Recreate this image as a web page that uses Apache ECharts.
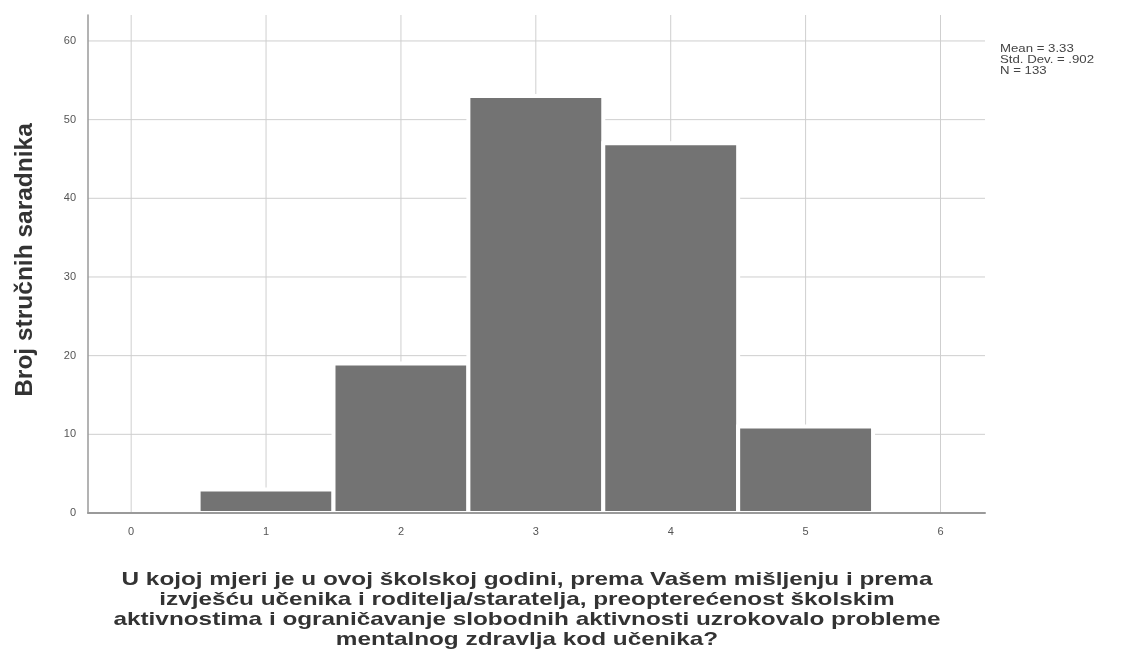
<!DOCTYPE html>
<html><head><meta charset="utf-8">
<script src="https://cdn.jsdelivr.net/npm/echarts@6/dist/echarts.min.js"></script>
<style>html,body{margin:0;padding:0;background:#fff}#c{width:1122px;height:665px}</style>
</head><body><div id="c"></div>
<script>
const binCenters = [1, 2, 3, 4, 5];
const counts = [3, 19, 53, 47, 11];
const yTicks = [0, 10, 20, 30, 40, 50, 60];
const xTicks = [0, 1, 2, 3, 4, 5, 6];
const statsText = ['Mean = 3.33', 'Std. Dev. = .902', 'N = 133'];
const yTitle = 'Broj stručnih saradnika';
const xTitleLines = [
  'U kojoj mjeri je u ovoj školskoj godini, prema Vašem mišljenju i prema',
  'izvješću učenika i roditelja/staratelja, preopterećenost školskim',
  'aktivnostima i ograničavanje slobodnih aktivnosti uzrokovalo probleme',
  'mentalnog zdravlja kod učenika?'
];

const X_MIN = -0.32, X_MAX = 6.33, Y_MAX = 63.3;
const chart = echarts.init(document.getElementById('c'));
const font = 'Liberation Sans, Arial, sans-serif';
chart.setOption({
  animation: false,
  backgroundColor: '#fff',
  grid: { left: 88, right: 137, top: 15, bottom: 152 },
  xAxis: {
    type: 'value', min: X_MIN, max: X_MAX, interval: 1, z: 10,
    axisLine: { show: true, onZero: false, lineStyle: { color: '#9a9a9a', width: 2 } },
    axisTick: { show: false },
    splitLine: { show: false },
    axisLabel: { show: false }
  },
  yAxis: {
    type: 'value', min: 0, max: Y_MAX, interval: 10, z: 10,
    axisLine: { show: true, onZero: false, lineStyle: { color: '#9a9a9a', width: 1.5 } },
    axisTick: { show: false },
    splitLine: { show: false },
    axisLabel: { color: '#555', fontSize: 11, fontFamily: font, margin: 12, showMaxLabel: false,
      formatter: v => yTicks.includes(v) ? String(v) : '' }
  },
  series: [
    {
      type: 'custom',
      data: xTicks.map(v => [v]),
      renderItem: (params, api) => {
        const x = api.value(0);
        const top = api.coord([x, Y_MAX]);
        const bot = api.coord([x, 0]);
        return {
          type: 'group',
          children: [
            { type: 'line', shape: { x1: top[0], y1: top[1], x2: bot[0], y2: bot[1] },
              style: { stroke: '#cfcfcf', lineWidth: 1 } },
            { type: 'text', style: { text: String(x), x: bot[0], y: bot[1] + 13,
              textAlign: 'center', fill: '#555', fontSize: 11, fontFamily: font } }
          ]
        };
      },
      z: 1
    },
    {
      type: 'custom',
      data: yTicks.filter(v => v > 0).map(v => [v]),
      renderItem: (params, api) => {
        const y = api.value(0);
        const a = api.coord([X_MIN, y]);
        const b = api.coord([X_MAX, y]);
        return { type: 'line', shape: { x1: a[0], y1: a[1], x2: b[0], y2: b[1] },
          style: { stroke: '#cfcfcf', lineWidth: 1 } };
      },
      encode: { y: 0 },
      z: 1
    },
    {
      type: 'custom',
      data: binCenters.map((c, i) => [c, counts[i]]),
      renderItem: (params, api) => {
        const c = api.value(0), n = api.value(1);
        const p0 = api.coord([c - 0.5, n]);
        const p1 = api.coord([c + 0.5, 0]);
        return {
          type: 'rect',
          shape: { x: p0[0], y: p0[1], width: p1[0] - p0[0], height: p1[1] - p0[1] },
          style: { fill: '#737373', stroke: '#ffffff', lineWidth: 4 }
        };
      },
      z: 3
    }
  ],
  graphic: [
    { type: 'text', x: 1000, y: 43, scaleX: 1.2,
      style: { text: statsText.join('\n'), fontSize: 11, lineHeight: 11, fill: '#444', fontFamily: font } },
    { type: 'text', x: 25, y: 260, rotation: Math.PI / 2,
      style: { text: yTitle, fontSize: 24.5, fontWeight: 'bold', fill: '#333', fontFamily: font,
        textAlign: 'center', textVerticalAlign: 'middle' } },
    { type: 'text', x: 527, y: 570, scaleX: 1.28, originX: 0,
      style: { text: xTitleLines.join('\n'), fontSize: 19, lineHeight: 20, fontWeight: 'bold',
        fill: '#333', fontFamily: font, textAlign: 'center' } }
  ]
});
</script></body></html>
